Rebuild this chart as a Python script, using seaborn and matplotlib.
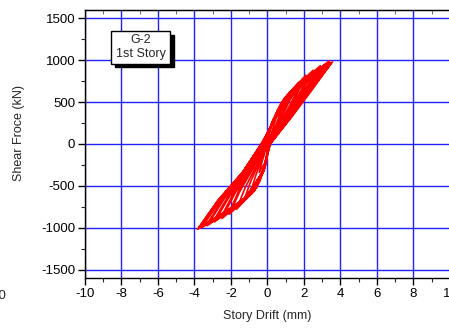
import matplotlib
matplotlib.use("Agg")
import matplotlib.pyplot as plt
from matplotlib.patches import Rectangle
from matplotlib.ticker import MultipleLocator
import seaborn as sns
import pandas as pd

# Hysteresis record of story drift (mm) vs. shear force (kN), one line per cycle
drift = [
    0.00,
    0.065, 0.21, 0.50, 0.34, 0.18, 0.02, -0.03, -0.15, -0.45, -0.32, -0.16, -0.04,
    0.12, 0.37, 0.90, 0.61, 0.33, 0.04, -0.06, -0.31, -0.90, -0.64, -0.32, -0.08,
    0.17, 0.54, 1.30, 0.88, 0.47, 0.05, -0.08, -0.44, -1.30, -0.93, -0.47, -0.12,
    0.22, 0.74, 1.70, 1.15, 0.62, 0.07, -0.11, -0.58, -1.70, -1.22, -0.61, -0.15,
    0.27, 0.92, 2.10, 1.42, 0.77, 0.08, -0.14, -0.71, -2.10, -1.50, -0.76, -0.19,
    0.30, 0.96, 2.10, 1.45, 0.80, 0.10, -0.17, -0.76, -2.12, -1.55, -0.80, -0.20,
    0.33, 1.10, 2.50, 1.69, 0.91, 0.10, -0.16, -0.85, -2.50, -1.79, -0.90, -0.23,
    0.36, 1.16, 2.52, 1.72, 0.95, 0.11, -0.18, -0.90, -2.55, -1.84, -0.95, -0.24,
    0.38, 1.27, 2.90, 1.96, 1.06, 0.12, -0.19, -0.99, -2.90, -2.07, -1.04, -0.26,
    0.40, 1.33, 2.92, 2.00, 1.10, 0.12, -0.21, -1.04, -2.95, -2.12, -1.08, -0.27,
    0.42, 1.41, 3.20, 2.16, 1.17, 0.13, -0.21, -1.12, -3.30, -2.36, -1.19, -0.30,
    0.45, 1.46, 3.22, 2.20, 1.20, 0.13, -0.23, -1.16, -3.32, -2.40, -1.23, -0.30,
    0.44, 1.50, 3.40, 2.30, 1.24, 0.14, -0.23, -1.22, -3.60, -2.57, -1.30, -0.32,
    0.47, 1.54, 3.42, 2.33, 1.27, 0.14, -0.25, -1.26, -3.65, -2.62, -1.33, -0.33,
    0.46, 1.58, 3.56, 2.40, 1.30, 0.15, -0.25, -1.30, -3.84, -2.74, -1.38, -0.35,
    0.48, 1.60, 3.50, 2.42, 1.32, 0.15, -0.26, -1.32, -3.78, -2.70, -1.36, -0.34,
]
force = [
    0,
    110, 220, 330, 220, 110, 0, -113, -227, -340, -227, -113, 0,
    157, 313, 470, 313, 157, 0, -187, -373, -560, -373, -187, 0,
    200, 400, 600, 400, 200, 0, -227, -453, -680, -453, -227, 0,
    245, 490, 735, 490, 245, 0, -260, -520, -780, -520, -260, 0,
    273, 547, 820, 547, 273, 0, -280, -560, -840, -560, -280, 0,
    267, 533, 800, 533, 267, 0, -275, -550, -825, -550, -275, 0,
    293, 587, 880, 587, 293, 0, -297, -593, -890, -593, -297, 0,
    287, 573, 860, 573, 287, 0, -290, -580, -875, -580, -290, 0,
    312, 623, 935, 623, 312, 0, -310, -620, -930, -620, -310, 0,
    305, 610, 915, 610, 305, 0, -305, -610, -915, -610, -305, 0,
    320, 640, 960, 640, 320, 0, -325, -650, -975, -650, -325, 0,
    315, 630, 945, 630, 315, 0, -320, -640, -960, -640, -320, 0,
    332, 663, 995, 663, 332, 0, -333, -667, -1000, -667, -333, 0,
    325, 650, 975, 650, 325, 0, -330, -660, -995, -660, -330, 0,
    327, 653, 980, 653, 327, 0, -340, -680, -1020, -680, -340, 0,
    320, 640, 965, 640, 320, 0, -335, -670, -1005, -670, -335, 0,
]

x_ticks = [-10, -8, -6, -4, -2, 0, 2, 4, 6, 8, 10]
y_ticks = [-1500, -1000, -500, 0, 500, 1000, 1500]
specimen = "G-2"
story = "1st Story"

df = pd.DataFrame({"Story Drift (mm)": drift, "Shear Froce (kN)": force})

sns.set_style("white")
plt.rcParams["font.family"] = ["Liberation Sans", "DejaVu Sans"]
plt.rcParams["axes.unicode_minus"] = False

fig = plt.figure(figsize=(4.49, 3.32), dpi=100)
ax = fig.add_axes([0.1893, 0.1627, 0.8129, 0.8072])

ax.set_xlim(-10, 10)
ax.set_ylim(-1600, 1600)
ax.set_xticks(x_ticks)
ax.set_yticks(y_ticks)
ax.xaxis.set_minor_locator(MultipleLocator(1))
ax.yaxis.set_minor_locator(MultipleLocator(250))
ax.grid(True, which="major", color="#2222ff", linewidth=1.0)
ax.set_axisbelow(True)

sns.lineplot(data=df, x="Story Drift (mm)", y="Shear Froce (kN)", sort=False,
             estimator=None, color="#ff0000", linewidth=1.2, ax=ax, zorder=3)

for s in ax.spines.values():
    s.set_color("black")
    s.set_linewidth(1.0)

ax.tick_params(which="major", direction="out", length=5, width=1.0,
               labelsize=9.5, colors="black", pad=2, bottom=True, left=True)
ax.tick_params(which="minor", direction="out", length=3, width=0.8,
               bottom=True, left=True)

top = ax.secondary_xaxis("top")
top.set_xticks(x_ticks)
top.xaxis.set_minor_locator(MultipleLocator(1))
top.tick_params(which="both", direction="in", length=3, width=0.6,
                labeltop=False, colors="#555555")

ax.set_xlabel("Story Drift (mm)", fontsize=9)
ax.set_ylabel("Shear Froce (kN)", fontsize=9)
ax.xaxis.set_label_coords(0.5, -0.12)
ax.yaxis.set_label_coords(-0.164, 0.541)

# annotation box with drop shadow
bx, by, bw, bh = -8.58, 960, 3.24, 390
ax.add_patch(Rectangle((bx + 0.22, by - 45), bw, bh, facecolor="black",
                       edgecolor="black", zorder=5))
ax.add_patch(Rectangle((bx, by), bw, bh, facecolor="white",
                       edgecolor="black", linewidth=1.0, zorder=6))
ax.text(bx + bw / 2, by + bh * 0.72, specimen, ha="center", va="center",
        fontsize=9, zorder=7)
ax.text(bx + bw / 2, by + bh * 0.28, story, ha="center", va="center",
        fontsize=9, zorder=7)

fig.text(7 / 449, 1 - 296 / 332, "10", ha="right", va="center", fontsize=9.5)

fig.savefig("out.png", dpi=100)
